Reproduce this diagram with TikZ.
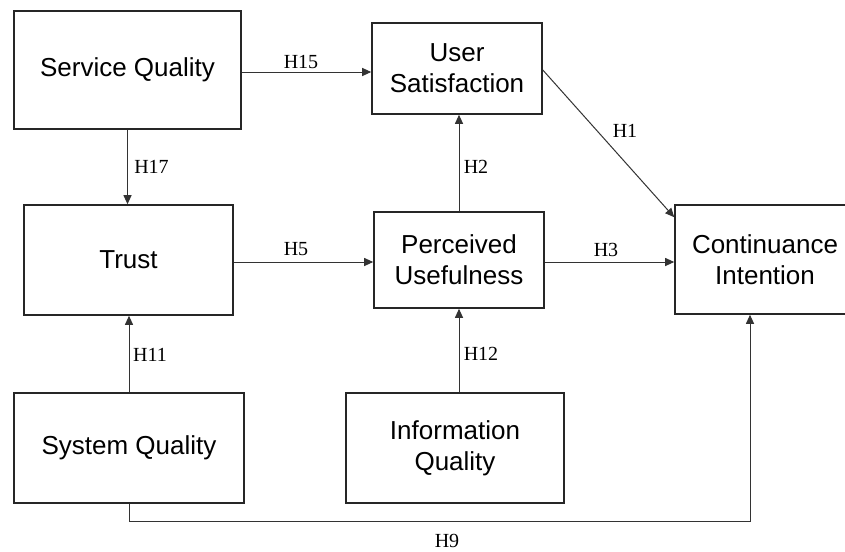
\documentclass[tikz,border=0pt]{standalone}
\usepackage{fontspec}
\setmainfont{Liberation Sans}
\newfontfamily\labelfont{Liberation Serif}
\usetikzlibrary{arrows.meta}
\begin{document}
\begin{tikzpicture}[x=1pt,y=-1pt,
  box/.style={draw=black!85, line width=1.6pt, align=center, inner sep=0pt,
    font=\fontsize{26}{31}\selectfont},
  conn/.style={draw=black!80, line width=1pt},
  arr/.style={conn, -{Triangle[length=9pt,width=8pt]}},
  hlab/.style={inner sep=0pt, font=\labelfont\fontsize{20}{24}\selectfont}]
\useasboundingbox (0,0) rectangle (845,551);
\fill[white] (0,0) rectangle (845,551);

\node[box, minimum width=227pt, minimum height=118pt] (SQ) at (127.5,70) {Service Quality};
\node[box, minimum width=170pt, minimum height=91pt] (US) at (457,68.5) {User\\Satisfaction};
\node[box, minimum width=209pt, minimum height=110pt] (TR) at (128.5,260) {Trust};
\node[box, minimum width=170pt, minimum height=96pt] (PU) at (459,260) {Perceived\\Usefulness};
\node[box, minimum width=180pt, minimum height=109pt] (CI) at (765,259.5) {Continuance\\Intention};
\node[box, minimum width=230pt, minimum height=110pt] (SY) at (129,448) {System Quality};
\node[box, minimum width=218pt, minimum height=110pt] (IQ) at (455,448) {Information\\Quality};

\coordinate (h1end) at ([yshift=-13pt]CI.north west);
\coordinate (h9end) at ([xshift=-15pt]CI.south);

\draw[arr] ([yshift=-2pt]SQ.east) -- ([yshift=-2pt]SQ.east -| US.west);
\draw[arr] (SQ.south) -- (SQ.south |- TR.north);
\draw[arr] ([yshift=-2pt]TR.east) -- ([yshift=-2pt]TR.east -| PU.west);
\draw[arr] (PU.north) -- (PU.north |- US.south);
\draw[arr] ([yshift=-2pt]PU.east) -- ([yshift=-2pt]PU.east -| CI.west);
\draw[arr] ([yshift=-1.5pt]US.east) -- (h1end);
\draw[arr] (SY.north) -- (SY.north |- TR.south);
\draw[arr] (PU.south |- IQ.north) -- (PU.south);
\draw[arr] (SY.south) -- ++(0,18) -| (h9end);

\node[hlab] (l15) at (301,62) {H15};
\node[hlab] (l17) at (151.5,167) {H17};
\node[hlab] (l2) at (476,167) {H2};
\node[hlab] (l1) at (625,131) {H1};
\node[hlab] (l5) at (296,249) {H5};
\node[hlab] (l3) at (606,250) {H3};
\node[hlab] (l11) at (150,355) {H11};
\node[hlab] (l12) at (481,354) {H12};
\node[hlab] (l9) at (447,541) {H9};
\end{tikzpicture}
\end{document}
